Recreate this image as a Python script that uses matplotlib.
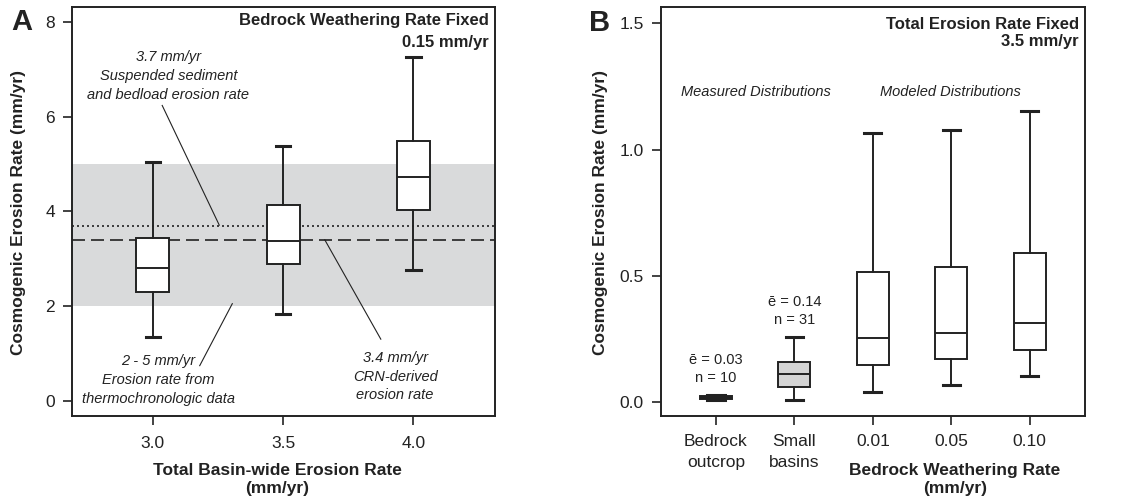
import numpy as np
import matplotlib
matplotlib.use('Agg')
import matplotlib.pyplot as plt

plt.rcParams['font.family'] = ['Liberation Sans', 'DejaVu Sans']
plt.rcParams['text.color'] = '#222222'
plt.rcParams['axes.edgecolor'] = '#222222'
plt.rcParams['xtick.color'] = '#222222'
plt.rcParams['ytick.color'] = '#222222'

# Panel A data: box stats per total basin-wide erosion rate
a_x = [3.0, 3.5, 4.0]
a_whislo = [1.35, 1.84, 2.76]
a_q1 = [2.30, 2.88, 4.04]
a_med = [2.80, 3.38, 4.72]
a_q3 = [3.44, 4.14, 5.48]
a_whishi = [5.05, 5.39, 7.27]
thermo_range = [2.0, 5.0]
sediment_rate = 3.7
crn_rate = 3.4

# Panel B data
b_labels = ['Bedrock\noutcrop', 'Small\nbasins', '0.01', '0.05', '0.10']
b_whislo = [0.008, 0.008, 0.040, 0.066, 0.103]
b_q1 = [0.011, 0.058, 0.144, 0.170, 0.205]
b_med = [0.017, 0.108, 0.252, 0.273, 0.313]
b_q3 = [0.024, 0.158, 0.515, 0.534, 0.589]
b_whishi = [0.026, 0.258, 1.067, 1.076, 1.153]
b_fill = ['#222222', '#d4d4d4', 'white', 'white', 'white']

lc = '#222222'
lw = 1.4


def make_stats(lo, q1, med, q3, hi):
    return [dict(whislo=a, q1=b, med=c, q3=d, whishi=e, fliers=[])
            for a, b, c, d, e in zip(lo, q1, med, q3, hi)]


fig = plt.figure(figsize=(11.26, 5.04), dpi=100)
axA = fig.add_axes([0.064, 0.175, 0.376, 0.811])
axB = fig.add_axes([0.587, 0.175, 0.377, 0.811])

for ax in (axA, axB):
    for s in ax.spines.values():
        s.set_linewidth(lw)
    ax.tick_params(direction='out', length=6.3, width=1.2, labelsize=12.5)
    ax.tick_params(axis='y', pad=6)
axA.tick_params(axis='x', pad=8.2)
axB.tick_params(axis='x', pad=7)

# ---- Panel A ----
axA.axhspan(thermo_range[0], thermo_range[1], color='#d9dadb', lw=0, zorder=0)
axA.axhline(sediment_rate, color=lc, ls=(0, (1.2, 1.8)), lw=1.2, zorder=1)
axA.axhline(crn_rate, color=lc, ls=(0, (7.8, 3.6)), lw=1.2, zorder=1)

statsA = make_stats(a_whislo, a_q1, a_med, a_q3, a_whishi)
axA.bxp(statsA, positions=a_x, widths=0.126, showfliers=False, patch_artist=True,
        boxprops=dict(facecolor='white', edgecolor=lc, lw=lw),
        medianprops=dict(color=lc, lw=lw),
        whiskerprops=dict(color=lc, lw=lw),
        capprops=dict(color=lc, lw=2.2), capwidths=0.055, zorder=3)

axA.set_xlim(2.69, 4.315)
axA.set_ylim(-0.32, 8.32)
axA.set_xticks(a_x)
axA.set_xticklabels(['3.0', '3.5', '4.0'])
axA.set_yticks([0, 2, 4, 6, 8])

fig.text(0.016, 0.579, 'Cosmogenic Erosion Rate (mm/yr)', rotation=90, fontsize=12.5,
         fontweight='bold', ha='center', va='center')
fig.text(277 / 1126, 0.0486, 'Total Basin-wide Erosion Rate\n(mm/yr)', fontsize=12.5,
         fontweight='bold', ha='center', va='center', linespacing=1.2)

axA.text(0.985, 0.986, 'Bedrock Weathering Rate Fixed', transform=axA.transAxes,
         ha='right', va='top', fontsize=12, fontweight='bold')
axA.text(0.985, 0.932, '0.15 mm/yr', transform=axA.transAxes,
         ha='right', va='top', fontsize=12, fontweight='bold')

ann = dict(fontsize=10.5, style='italic', ha='center', va='center', linespacing=1.45)
axA.text(3.06, 6.86, '3.7 mm/yr\nSuspended sediment\nand bedload erosion rate', **ann)
axA.plot([3.036, 3.255], [6.24, 3.71], color=lc, lw=0.8)
axA.text(3.02, 0.44, '2 - 5 mm/yr\nErosion rate from\nthermochronologic data', **ann)
axA.plot([3.18, 3.305], [0.74, 2.05], color=lc, lw=0.8)
axA.text(3.93, 0.51, '3.4 mm/yr\nCRN-derived\nerosion rate', **ann)
axA.plot([3.66, 3.875], [3.4, 1.3], color=lc, lw=0.8)

fig.text(21.7 / 1126, 1 - 22 / 504, 'A', fontsize=21, fontweight='bold',
         ha='center', va='center')

# ---- Panel B ----
b_pos = np.arange(1, len(b_labels) + 1)
statsB = make_stats(b_whislo, b_q1, b_med, b_q3, b_whishi)
bp = axB.bxp(statsB, positions=b_pos, widths=0.41, showfliers=False, patch_artist=True,
             boxprops=dict(edgecolor=lc, lw=lw),
             medianprops=dict(color=lc, lw=lw),
             whiskerprops=dict(color=lc, lw=lw),
             capprops=dict(color=lc, lw=2.2), capwidths=0.22, zorder=3)
for patch, fc in zip(bp['boxes'], b_fill):
    patch.set_facecolor(fc)

axB.set_xlim(0.3, 5.71)
axB.set_ylim(-0.056, 1.565)
axB.set_xticks(b_pos)
axB.set_xticklabels(b_labels)
for t in axB.get_xticklabels():
    t.set_linespacing(1.45)
axB.set_yticks([0.0, 0.5, 1.0, 1.5])
axB.set_yticklabels(['0.0', '0.5', '1.0', '1.5'])

fig.text(601 / 1126, 0.579, 'Cosmogenic Erosion Rate (mm/yr)', rotation=90, fontsize=12.5,
         fontweight='bold', ha='center', va='center')
fig.text(954.7 / 1126, 0.0486, 'Bedrock Weathering Rate\n(mm/yr)', fontsize=12.5,
         fontweight='bold', ha='center', va='center', linespacing=1.2)

axB.text(0.985, 0.975, 'Total Erosion Rate Fixed', transform=axB.transAxes,
         ha='right', va='top', fontsize=12, fontweight='bold')
axB.text(0.985, 0.934, '3.5 mm/yr', transform=axB.transAxes,
         ha='right', va='top', fontsize=12, fontweight='bold')

axB.text(1.51, 1.23, 'Measured Distributions', fontsize=10.5, style='italic', ha='center', va='center')
axB.text(3.99, 1.23, 'Modeled Distributions', fontsize=10.5, style='italic', ha='center', va='center')

axB.text(1, 0.129, '\u0113 = 0.03\nn = 10', fontsize=10.5, ha='center', va='center', linespacing=1.35)
axB.text(2, 0.359, '\u0113 = 0.14\nn = 31', fontsize=10.5, ha='center', va='center', linespacing=1.35)

fig.text(599.7 / 1126, 1 - 23 / 504, 'B', fontsize=21, fontweight='bold',
         ha='center', va='center')

fig.savefig('out.png', dpi=100)
